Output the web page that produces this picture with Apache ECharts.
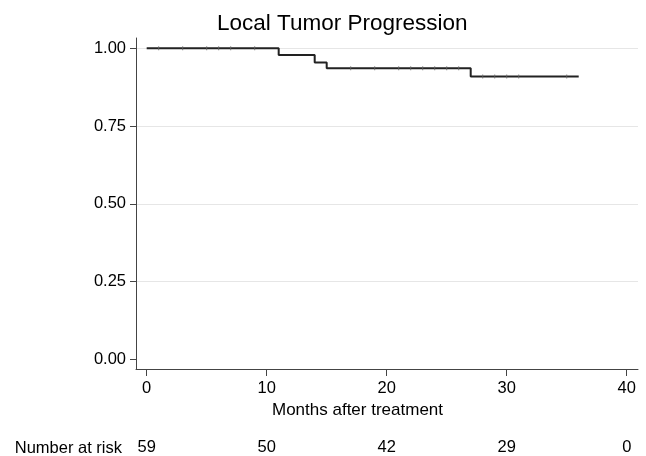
<!DOCTYPE html>
<html>
<head>
<meta charset="utf-8">
<script src="https://cdn.jsdelivr.net/npm/echarts@6/dist/echarts.min.js"></script>
<style>
  html, body { margin: 0; padding: 0; background: #fff; }
  #chart { width: 646px; height: 456px; }
</style>
</head>
<body>
<div id="chart"></div>
<script>
// Kaplan-Meier steps (time in months, survival)
var stepTimes = [0, 11, 14, 15, 27, 36];
var stepSurv = [1.0, 0.978, 0.954, 0.936, 0.909, 0.909];
// censored observations (tick marks on the curve)
var censorTimes = [1, 3, 5, 6, 7, 9, 17, 19, 21, 22, 23, 24, 25, 26, 28, 29, 30, 31, 35];
// number at risk row
var riskTimes = [0, 10, 20, 30, 40];
var riskCounts = [59, 50, 42, 29, 0];
var xTicks = [0, 10, 20, 30, 40];
var yTicks = [0, 0.25, 0.5, 0.75, 1.0];

var font = "'Liberation Sans', Arial, Helvetica, sans-serif";

function survAt(t) {
  var s = stepSurv[0];
  for (var i = 0; i < stepTimes.length; i++) {
    if (stepTimes[i] <= t) s = stepSurv[i];
  }
  return s;
}

var curve = stepTimes.map(function (t, i) { return [t, stepSurv[i]]; });
var censored = censorTimes.map(function (t) { return [t, survAt(t)]; });

var myChart = echarts.init(document.getElementById("chart"));
var option = {
  animation: false,
  backgroundColor: "#fff",
  textStyle: { fontFamily: font },
  title: {
    text: "Local Tumor Progression",
    left: 212,
    top: 7,
    textStyle: { fontFamily: font, fontSize: 22.5, fontWeight: "normal", color: "#000" }
  },
  grid: [
    { left: 136, right: 8, top: 38, bottom: 87 },
    { left: 136, right: 8, top: 448, height: 1 }
  ],
  xAxis: [
    {
      type: "value",
      gridIndex: 0,
      min: -0.89,
      max: 40.94,
      name: "Months after treatment",
      nameLocation: "middle",
      nameGap: 28,
      nameTextStyle: { fontFamily: font, fontSize: 17, color: "#000", padding: [0, 59, 0, 0] },
      axisLine: { show: true, onZero: false, lineStyle: { color: "#444", width: 1 } },
      axisTick: { show: true, length: 7, customValues: xTicks, lineStyle: { color: "#444" } },
      axisLabel: { customValues: xTicks, margin: 11, fontSize: 16.5, color: "#000", fontFamily: font },
      splitLine: { show: false }
    },
    {
      type: "value",
      gridIndex: 1,
      min: -0.89,
      max: 40.94,
      name: "Number at risk",
      nameLocation: "start",
      nameGap: 14,
      nameTextStyle: { fontFamily: font, fontSize: 16.5, color: "#000" },
      axisLine: { show: false },
      axisTick: { show: false },
      axisLabel: {
        customValues: riskTimes,
        margin: -1,
        verticalAlign: "middle",
        fontSize: 16.5,
        color: "#000",
        fontFamily: font,
        formatter: function (v) {
          var i = riskTimes.indexOf(v);
          return i >= 0 ? String(riskCounts[i]) : "";
        }
      },
      splitLine: { show: false }
    }
  ],
  yAxis: [
    {
      type: "value",
      gridIndex: 0,
      min: -0.031,
      max: 1.033,
      axisLine: { show: true, onZero: false, lineStyle: { color: "#444", width: 1 } },
      axisTick: { show: true, length: 6, customValues: yTicks, lineStyle: { color: "#444" } },
      axisLabel: {
        customValues: yTicks,
        margin: 10,
        fontSize: 16.5,
        color: "#000",
        fontFamily: font,
        formatter: function (v) { return v.toFixed(2); }
      },
      splitLine: {
        show: true,
        lineStyle: { color: ["rgba(0,0,0,0)", "#e6e6e6", "#e6e6e6", "#e6e6e6", "#e6e6e6"], width: 1 }
      }
    },
    {
      type: "value",
      gridIndex: 1,
      show: false,
      min: 0,
      max: 1
    }
  ],
  series: [
    {
      type: "line",
      xAxisIndex: 0,
      yAxisIndex: 0,
      step: "end",
      data: curve,
      showSymbol: false,
      lineStyle: { color: "#222", width: 2 },
      z: 3
    },
    {
      type: "scatter",
      xAxisIndex: 0,
      yAxisIndex: 0,
      data: censored,
      symbol: "rect",
      symbolSize: [1, 4],
      itemStyle: { color: "#666" },
      z: 4
    }
  ]
};
option && myChart.setOption(option);
</script>
</body>
</html>
